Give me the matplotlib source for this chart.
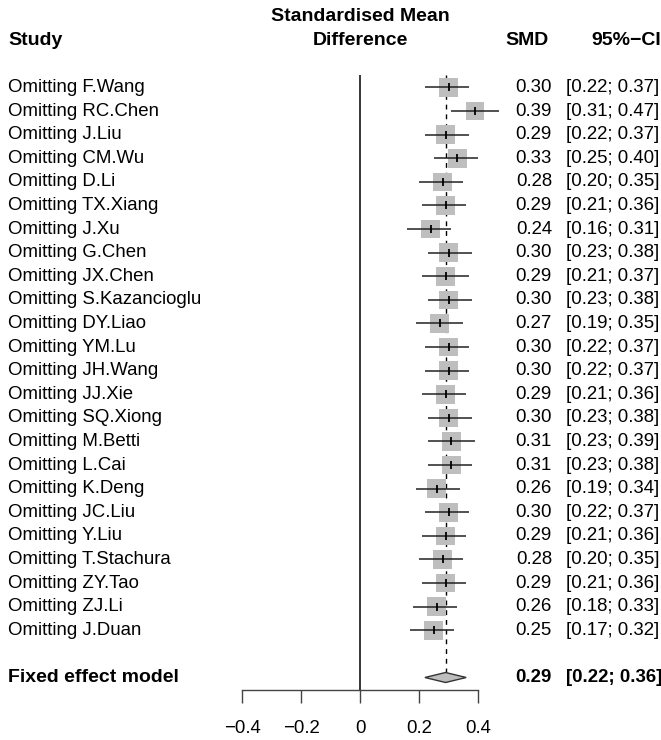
import matplotlib
matplotlib.use('Agg')
import matplotlib.pyplot as plt
import numpy as np

# leave-one-out results
studies = ['F.Wang', 'RC.Chen', 'J.Liu', 'CM.Wu', 'D.Li', 'TX.Xiang', 'J.Xu',
           'G.Chen', 'JX.Chen', 'S.Kazancioglu', 'DY.Liao', 'YM.Lu', 'JH.Wang',
           'JJ.Xie', 'SQ.Xiong', 'M.Betti', 'L.Cai', 'K.Deng', 'JC.Liu', 'Y.Liu',
           'T.Stachura', 'ZY.Tao', 'ZJ.Li', 'J.Duan']
smd = [0.30, 0.39, 0.29, 0.33, 0.28, 0.29, 0.24, 0.30, 0.29, 0.30, 0.27, 0.30,
       0.30, 0.29, 0.30, 0.31, 0.31, 0.26, 0.30, 0.29, 0.28, 0.29, 0.26, 0.25]
ci_lo = [0.22, 0.31, 0.22, 0.25, 0.20, 0.21, 0.16, 0.23, 0.21, 0.23, 0.19, 0.22,
         0.22, 0.21, 0.23, 0.23, 0.23, 0.19, 0.22, 0.21, 0.20, 0.21, 0.18, 0.17]
ci_hi = [0.37, 0.47, 0.37, 0.40, 0.35, 0.36, 0.31, 0.38, 0.37, 0.38, 0.35, 0.37,
         0.37, 0.36, 0.38, 0.39, 0.38, 0.34, 0.37, 0.36, 0.35, 0.36, 0.33, 0.32]
fixed_est, fixed_lo, fixed_hi = 0.29, 0.22, 0.36
xticks = [-0.4, -0.2, 0, 0.2, 0.4]
xticklabels = ['\u22120.4', '\u22120.2', '0', '0.2', '0.4']

plt.rcParams['font.family'] = ['Liberation Sans', 'DejaVu Sans']
FS = 13.4       # regular text
FSB = 14.0      # bold text
W, H = 661, 740
PX = 295.0          # pixels per SMD unit
X0 = 360.0          # pixel x of SMD = 0
ROW0, ROWH = 87.5, 23.6
AX_BOTTOM = 690.0


def px2x(p):
    return (p - X0) / PX


def py2row(p):
    return (p - ROW0) / ROWH


fig = plt.figure(figsize=(W / 100, H / 100), dpi=100)
ax = fig.add_axes([0, (H - AX_BOTTOM) / H, 1, AX_BOTTOM / H])
ax.set_xlim(px2x(0), px2x(W))
ax.set_ylim(py2row(AX_BOTTOM), py2row(0))

for s in ['top', 'left', 'right']:
    ax.spines[s].set_visible(False)
ax.spines['bottom'].set_bounds(-0.4, 0.4)
ax.spines['bottom'].set_color('#444444')
ax.spines['bottom'].set_linewidth(1.0)
ax.set_yticks([])
ax.set_xticks(xticks)
ax.set_xticklabels(xticklabels, fontsize=FS)
ax.tick_params(axis='x', direction='out', length=9.4, width=1.0, color='#444444', pad=12.5)

rows = np.arange(len(studies))
fixed_row = len(studies) + 1

# reference lines
ax.vlines(0, py2row(75), py2row(AX_BOTTOM), color='black', lw=1.1, zorder=1)
ax.vlines(fixed_est, py2row(75), fixed_row - 0.22, color='black', lw=1.0,
          linestyles=(0, (3.5, 3.5)), zorder=1)

# squares, CIs, centre ticks
ax.scatter(smd, rows, marker='s', s=180, color='#BEBEBE', edgecolor='none', zorder=2)
ax.hlines(rows, ci_lo, ci_hi, color='#222222', lw=1.1, zorder=3)
ax.plot(smd, rows, ls='none', marker='|', ms=5.5, mew=1.3, color='black', zorder=4)

# diamond
dh = 5.0 / ROWH
ax.fill([fixed_lo, fixed_est, fixed_hi, fixed_est],
        [fixed_row, fixed_row - dh, fixed_row, fixed_row + dh],
        facecolor='#BEBEBE', edgecolor='#333333', lw=1.0, zorder=3)

# text columns
x_study = px2x(8)
x_smd = px2x(552)
x_ci = px2x(566)
for r, name, m, lo, hi in zip(rows, studies, smd, ci_lo, ci_hi):
    ax.text(x_study, r, f'Omitting {name}', fontsize=FS, va='center', ha='left')
    ax.text(x_smd, r, f'{m:.2f}', fontsize=FS, va='center', ha='right')
    ax.text(x_ci, r, f'[{lo:.2f}; {hi:.2f}]', fontsize=FS, va='center', ha='left',
            clip_on=False)

ax.text(x_study, fixed_row, 'Fixed effect model', fontsize=FSB, fontweight='bold',
        va='center', ha='left')
ax.text(x_smd, fixed_row, f'{fixed_est:.2f}', fontsize=FS, fontweight='bold',
        va='center', ha='right')
ax.text(x_ci, fixed_row, f'[{fixed_lo:.2f}; {fixed_hi:.2f}]', fontsize=FS,
        fontweight='bold', va='center', ha='left')

# headers
hdr = py2row(41)
ax.text(x_study, hdr, 'Study', fontsize=FSB, fontweight='bold', va='center', ha='left')
ax.text(0, py2row(17), 'Standardised Mean', fontsize=FSB, fontweight='bold',
        va='center', ha='center')
ax.text(0, hdr, 'Difference', fontsize=FSB, fontweight='bold', va='center', ha='center')
ax.text(px2x(549), hdr, 'SMD', fontsize=FSB, fontweight='bold', va='center', ha='right')
ax.text(px2x(661), hdr, '95%\u2212CI', fontsize=FSB, fontweight='bold', va='center',
        ha='right')

fig.savefig('out.png', dpi=100)
